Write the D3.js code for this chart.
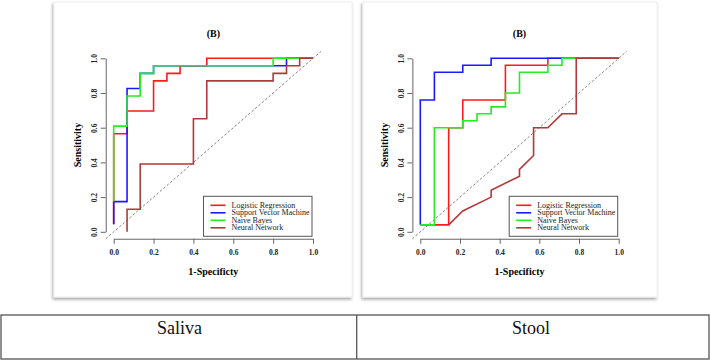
<!DOCTYPE html>
<html lang="en">
<head>
  <meta charset="UTF-8">
  <title>ROC curves - Saliva / Stool</title>
  <script src="https://d3js.org/d3.v7.min.js"></script>
  <style>
    body { margin: 0; background: #fff; }
    svg { display: block; }
    svg text { font-family: "Times New Roman", Times, "Liberation Serif", "DejaVu Serif", "Noto Serif", serif; }
    .curve { fill: none; stroke-width: 1.6px; }
    .axis path, .axis line { stroke: #666; stroke-width: 1px; }
    .axis text { font-size: 7.5px; font-weight: bold; fill: #222; }
  </style>
</head>
<body>
  <svg width="710" height="361"></svg>

  <script>
    // series names and colours (legend order = drawing order)
    const seriesNames = ["Logistic Regression", "Support Vector Machine", "Naive Bayes", "Neural Network"];
    const seriesColors = ["#ff1a1a", "#1a1aff", "#22ee22", "#b03a3a"];
    const tickValues = [0, 0.2, 0.4, 0.6, 0.8, 1.0];
    const sampleNames = ["Saliva", "Stool"];

    // [1-specificity, sensitivity] corner points
    const salivaLR = [[0, 0.043], [0, 0.565], [0.067, 0.565], [0.067, 0.696], [0.2, 0.696], [0.2, 0.870],
      [0.267, 0.870], [0.267, 0.913], [0.333, 0.913], [0.333, 0.957], [0.467, 0.957], [0.467, 1], [1, 1]];
    const salivaSVM = [[0, 0.043], [0, 0.174], [0.067, 0.174], [0.067, 0.826], [0.133, 0.826], [0.133, 0.913],
      [0.2, 0.913], [0.2, 0.957], [0.867, 0.957], [0.867, 1], [1, 1]];
    const salivaNB = [[0, 0.174], [0, 0.609], [0.067, 0.609], [0.067, 0.783], [0.133, 0.783], [0.133, 0.913],
      [0.2, 0.913], [0.2, 0.957], [0.8, 0.957], [0.8, 1], [1, 1]];
    const salivaNN = [[0.067, 0], [0.067, 0.130], [0.133, 0.130], [0.133, 0.391], [0.4, 0.391], [0.4, 0.652],
      [0.467, 0.652], [0.467, 0.870], [0.8, 0.870], [0.8, 0.913], [0.867, 0.913], [0.867, 0.957],
      [0.933, 0.957], [0.933, 1], [1, 1]];

    const stoolLR = [[0, 0.04], [0.143, 0.04], [0.143, 0.6], [0.214, 0.6], [0.214, 0.76], [0.429, 0.76],
      [0.429, 0.96], [0.643, 0.96], [0.643, 1], [1, 1]];
    const stoolSVM = [[0, 0.04], [0, 0.76], [0.071, 0.76], [0.071, 0.92], [0.214, 0.92], [0.214, 0.96],
      [0.357, 0.96], [0.357, 1], [1, 1]];
    const stoolNB = [[0, 0.04], [0.071, 0.04], [0.071, 0.6], [0.214, 0.6], [0.214, 0.64], [0.286, 0.64],
      [0.286, 0.68], [0.357, 0.68], [0.357, 0.72], [0.429, 0.72], [0.429, 0.8], [0.5, 0.8], [0.5, 0.92],
      [0.643, 0.92], [0.643, 0.96], [0.714, 0.96], [0.714, 1], [1, 1]];
    const stoolNN = [[0.143, 0.04], [0.214, 0.12], [0.357, 0.2], [0.357, 0.24], [0.5, 0.32], [0.5, 0.36],
      [0.571, 0.44], [0.571, 0.6], [0.643, 0.6], [0.714, 0.68], [0.786, 0.68], [0.786, 1], [1, 1]];

    const svg = d3.select("svg");

    const defs = svg.append("defs");
    const shadow = defs.append("filter").attr("id", "shadow")
      .attr("x", "-5%").attr("y", "-5%").attr("width", "110%").attr("height", "110%");
    shadow.append("feDropShadow")
      .attr("dx", -1).attr("dy", 2).attr("stdDeviation", 1.4)
      .attr("flood-color", "#000").attr("flood-opacity", 0.35);

    function drawPanel(opts, series) {
      // card
      svg.append("rect")
        .attr("x", opts.card[0]).attr("y", 2)
        .attr("width", opts.card[1] - opts.card[0]).attr("height", 295)
        .attr("fill", "#fff")
        .attr("stroke", "#eee")
        .attr("filter", "url(#shadow)");

      const x = d3.scaleLinear().domain([0, 1]).range(opts.xr);
      const y = d3.scaleLinear().domain([0, 1]).range([231.8, 58.3]);
      const g = svg.append("g");

      // diagonal reference line across the plot region
      g.append("line")
        .attr("x1", x(-0.04)).attr("y1", y(-0.04))
        .attr("x2", x(1.04)).attr("y2", y(1.04))
        .attr("stroke", "#777").attr("stroke-width", 0.9)
        .attr("stroke-dasharray", "2.5,2");

      // Y axis
      const yAxis = g.append("g")
        .attr("class", "axis")
        .attr("transform", `translate(${x(-0.04)},0)`)
        .call(d3.axisLeft(y).tickValues(tickValues).tickFormat(d3.format(".1f")).tickSize(5).tickSizeOuter(0));
      yAxis.attr("font-family", null);
      yAxis.selectAll("text")
        .attr("x", null).attr("dy", null)
        .attr("text-anchor", "middle")
        .attr("transform", "translate(-11,0) rotate(-90)")
        .attr("dy", "0.32em");

      // X axis
      const xAxis = g.append("g")
        .attr("class", "axis")
        .attr("transform", `translate(0,${y(-0.04)})`)
        .call(d3.axisBottom(x).tickValues(tickValues).tickFormat(d3.format(".1f")).tickSize(5).tickSizeOuter(0));
      xAxis.attr("font-family", null);
      xAxis.selectAll("text").attr("y", 11);

      // curves
      const line = d3.line().x(d => x(d[0])).y(d => y(d[1]));
      series.forEach((s, i) => {
        g.append("path")
          .datum(s)
          .attr("class", "curve")
          .attr("stroke", seriesColors[i])
          .attr("d", line);
      });

      // titles
      const mid = (x(0) + x(1)) / 2;
      g.append("text")
        .attr("x", mid).attr("y", 36.5)
        .attr("text-anchor", "middle")
        .style("font-size", "10px").style("font-weight", "bold")
        .text("(B)");
      g.append("text")
        .attr("x", mid).attr("y", 274.5)
        .attr("text-anchor", "middle")
        .style("font-size", "10px").style("font-weight", "bold")
        .text("1-Specificty");
      g.append("text")
        .attr("transform", `translate(${x(-0.04) - 28},${(y(0) + y(1)) / 2}) rotate(-90)`)
        .attr("text-anchor", "middle")
        .attr("dy", "0.35em")
        .style("font-size", "10px").style("font-weight", "bold")
        .text("Sensitivity");

      // legend (bottom right)
      const lw = 108.5, lh = 40;
      const lx = x(1) - 1 - lw, ly = y(0) + 4.5 - lh;
      const leg = g.append("g").attr("transform", `translate(${lx},${ly})`);
      leg.append("rect")
        .attr("width", lw).attr("height", lh)
        .attr("fill", "#fff").attr("stroke", "#555").attr("stroke-width", 1);
      seriesNames.forEach((name, i) => {
        const ry = 9 + i * 7.5;
        leg.append("line")
          .attr("x1", 7).attr("x2", 22)
          .attr("y1", ry).attr("y2", ry)
          .attr("stroke", seriesColors[i]).attr("stroke-width", 1.6);
        leg.append("text")
          .attr("x", 28).attr("y", ry)
          .attr("dy", "0.33em")
          .style("font-size", "8px")
          .attr("fill", "#222")
          .text(name);
      });
    }

    drawPanel({ card: [54, 352], xr: [113.7, 313] }, [salivaLR, salivaSVM, salivaNB, salivaNN]);
    drawPanel({ card: [363, 657], xr: [420.3, 618.7] }, [stoolLR, stoolSVM, stoolNB, stoolNN]);

    // table underneath
    const table = svg.append("g");
    table.append("rect")
      .attr("x", 1).attr("y", 315)
      .attr("width", 708).attr("height", 44)
      .attr("fill", "none").attr("stroke", "#555").attr("stroke-width", 1.3);
    table.append("line")
      .attr("x1", 356.7).attr("x2", 356.7).attr("y1", 315).attr("y2", 359)
      .attr("stroke", "#555").attr("stroke-width", 1.3);
    const cellCenters = [179.5, 531];
    sampleNames.forEach((name, i) => {
      table.append("text")
        .attr("x", cellCenters[i]).attr("y", 334)
        .attr("text-anchor", "middle")
        .style("font-size", "18px")
        .attr("fill", "#111")
        .text(name);
    });
  </script>
</body>
</html>
